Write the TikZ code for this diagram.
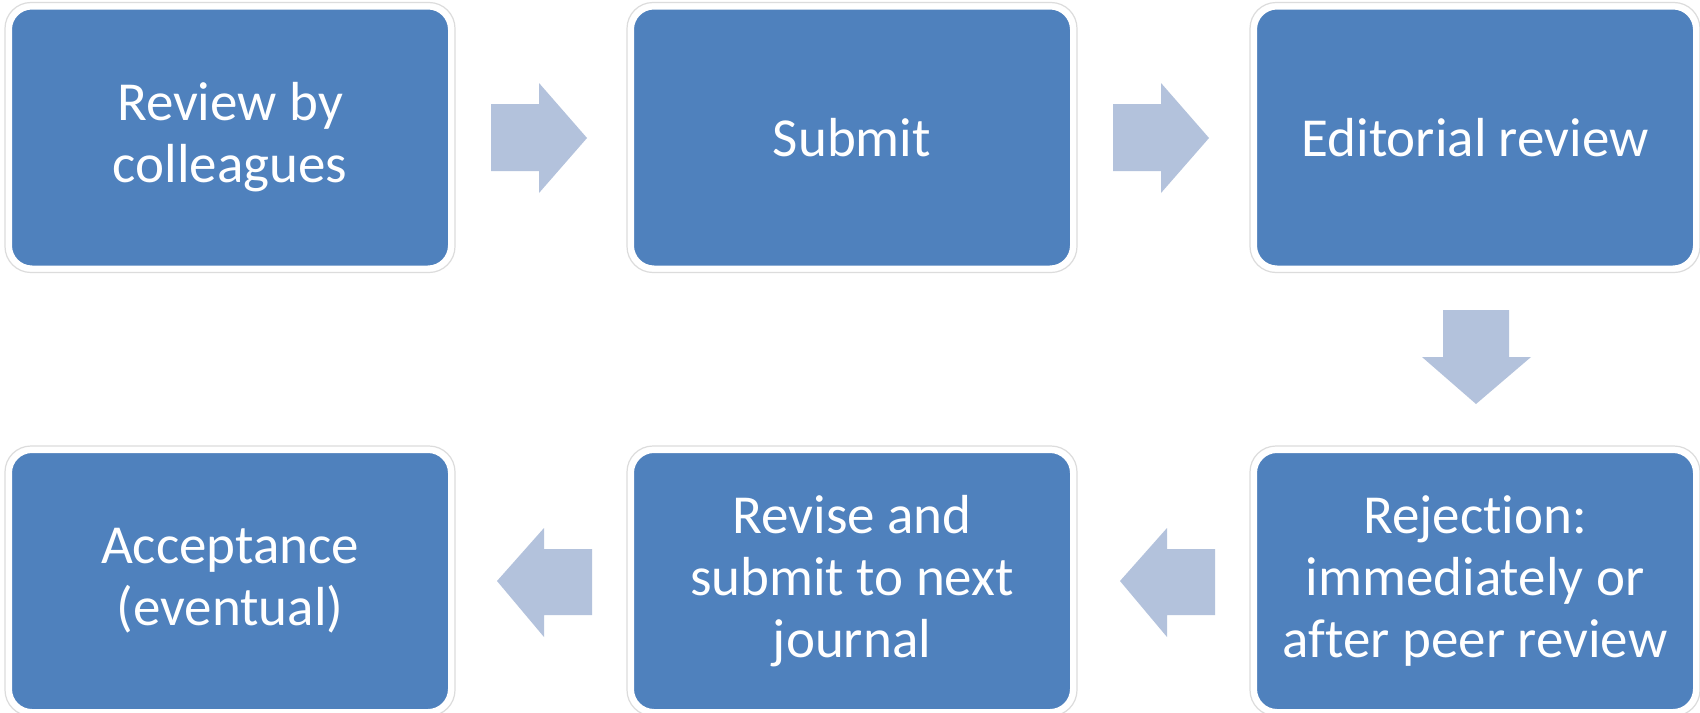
\documentclass[tikz,border=0pt]{standalone}
\usepackage{fontspec}
\setmainfont{Carlito}[Ligatures={NoCommon}]
\definecolor{boxblue}{HTML}{4F81BD}
\definecolor{arrowblue}{HTML}{B3C2DC}
\definecolor{edgegray}{HTML}{DCDCDC}
\begin{document}
\begin{tikzpicture}[x=0.5pt,y=-0.5pt,
  stepbox/.style={rectangle, rounded corners=11pt, fill=boxblue, draw=white, line width=2pt,
    minimum width=220pt, minimum height=130pt, align=center,
    text=white, font=\fontsize{27.5}{31}\selectfont},
  frame/.style={draw=edgegray, line width=0.6pt, rounded corners=13pt},
  flow/.style={fill=arrowblue, draw=none}]
\useasboundingbox (0,0) rectangle (1700,712);
\fill[white] (0,0) rectangle (1700,712);
% outer gray frames
\foreach \x/\y in {230/137.5, 852/137.5, 1475/137.5, 230/581, 852/581, 1475/581}
  \draw[frame] (\x-225,\y-135) rectangle (\x+225,\y+135);
\node[stepbox] (a) at (230,137.5) {Review by\\colleagues};
\node[stepbox] (b) at (852,137.5) {Submit};
\node[stepbox] (c) at (1475,137.5) {Editorial review};
\node[stepbox] (d) at (1475,581) {Rejection:\\immediately or\\after peer review};
\node[stepbox] (e) at (852,581) {Revise and\\submit to next\\journal};
\node[stepbox] (f) at (230,581) {Acceptance\\(eventual)};
% block arrows
\fill[flow] (491,104) -- (539,104) -- (539,83) -- (587,138) -- (539,193) -- (539,171) -- (491,171) -- cycle;
\fill[flow] (1113,104) -- (1161,104) -- (1161,83) -- (1209,138) -- (1161,193) -- (1161,171) -- (1113,171) -- cycle;
\fill[flow] (1443,310) -- (1509,310) -- (1509,357) -- (1531,357) -- (1476,404) -- (1422,357) -- (1443,357) -- cycle;
\fill[flow] (1215,549) -- (1167,549) -- (1167,528) -- (1120,581) -- (1167,637) -- (1167,615) -- (1215,615) -- cycle;
\fill[flow] (592,549) -- (544,549) -- (544,528) -- (497,581) -- (544,637) -- (544,615) -- (592,615) -- cycle;
\end{tikzpicture}
\end{document}
